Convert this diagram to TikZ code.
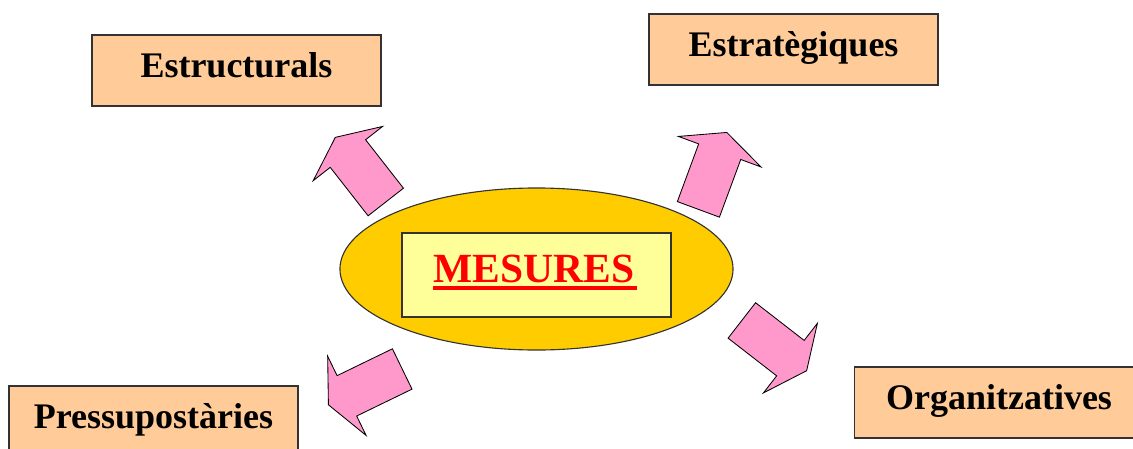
\documentclass[tikz,border=0pt]{standalone}
\usepackage{fontspec}
\setmainfont{Liberation Serif}
\usetikzlibrary{shapes.geometric,shapes.arrows,positioning}
\definecolor{peach}{RGB}{255,204,153}
\definecolor{gold}{RGB}{255,204,0}
\definecolor{paleyellow}{RGB}{255,255,153}
\definecolor{rosepink}{RGB}{255,153,204}
\colorlet{outline}{black!80}
\tikzset{
  kindbox/.style={draw=outline, line width=0.8pt, fill=peach,
    minimum width=7.225cm, minimum height=1.775cm,
    font=\fontsize{25.6}{30}\selectfont\bfseries,
    text height=0.65cm, text depth=0.325cm},
  blockarrow/.style={single arrow, draw=black, line width=0.6pt, fill=rosepink,
    inner xsep=0pt, inner ysep=0.55cm, minimum height=2.05cm,
    single arrow head extend=0.54cm, single arrow tip angle=130, anchor=tip}
}
\begin{document}
\begin{tikzpicture}[x=0.025cm, y=-0.025cm]
  \useasboundingbox (0,0) rectangle (1133,448);
  % centre
  \node[ellipse, draw=outline, line width=0.8pt, fill=gold,
        minimum width=9.825cm, minimum height=4.05cm] (core) at (536.5,269) {};
  \node[draw=outline, line width=0.8pt, fill=paleyellow,
        minimum width=6.725cm, minimum height=2.1cm] (coretag) at (536.5,275) {};
  \node[red, inner sep=0pt, anchor=base, font=\fontsize{29.5}{34}\selectfont\bfseries]
        (mes) at (534,282) {MESURES};
  \draw[red, line width=0.1cm] ([yshift=-0.14cm]mes.base west) -- ([yshift=-0.14cm,xshift=0.05cm]mes.base east);
  % kinds of measures
  \node[kindbox] (estruc) at (236.5,70.5) {Estructurals};
  \node[kindbox] (estrat) at (793.5,49.5) {Estratègiques};
  \node[kindbox] (pressu) at (153.5,421.5) {Pressupostàries};
  \node[kindbox] (organ) at (999,402.5) {Organitzatives};
  % arrows
  \node[blockarrow, rotate=128] (toestruc) at (335,137) {};
  \node[blockarrow, rotate=69.7] (toestrat) at (727,132) {};
  \node[blockarrow, rotate=-37.8] (toorgan) at (807,371) {};
  \node[blockarrow, rotate=205.9] (topressu) at (328,405) {};
\end{tikzpicture}
\end{document}
